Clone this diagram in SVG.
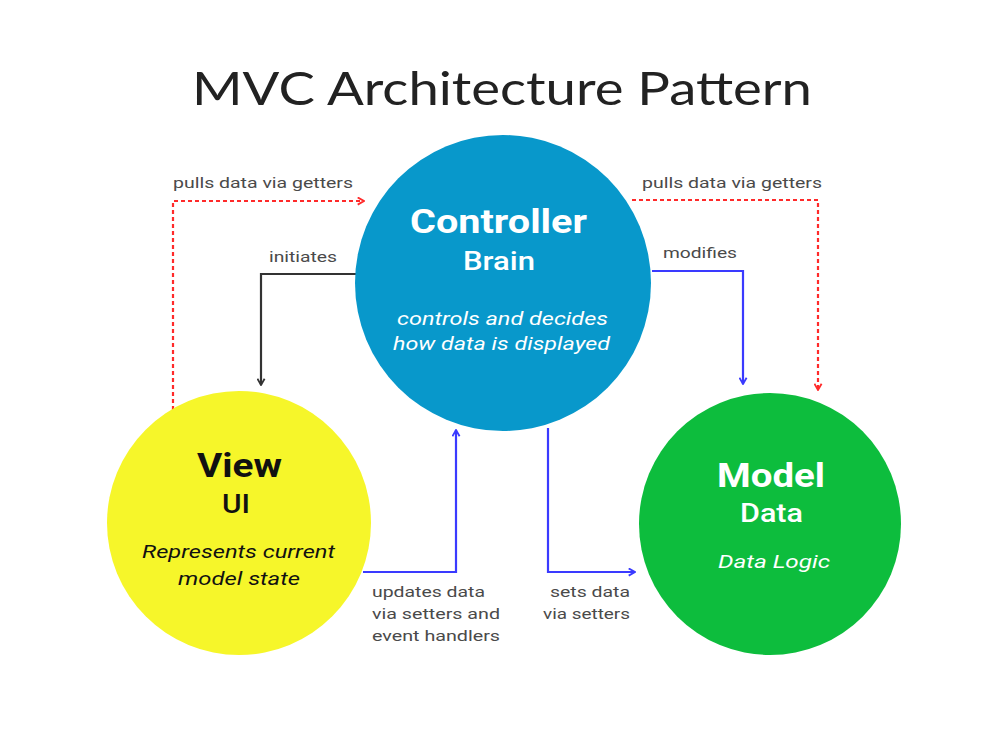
<svg xmlns="http://www.w3.org/2000/svg" width="1000" height="750" viewBox="0 0 1000 750">
<style>
.title{font-family:"Lato","Open Sans",sans-serif;font-weight:400;font-size:47px;fill:#222}
.lbl{font-family:"Roboto","Liberation Sans",sans-serif;font-size:15.5px;fill:#4a4a4a}
.h{font-family:"Roboto","Liberation Sans",sans-serif;font-weight:700;font-size:34px;text-anchor:middle}
.s{font-family:"Roboto","Liberation Sans",sans-serif;font-weight:500;font-size:25px;text-anchor:middle}
.i{font-family:"Roboto","Liberation Sans",sans-serif;font-style:italic;font-size:19px;text-anchor:middle}
.w{fill:#fff}
.k{fill:#111}
.red{stroke:#ff2a2a;stroke-width:2.2;fill:none;stroke-dasharray:4 3}
.blue{stroke:#3a3aff;stroke-width:2.2;fill:none}
.blk{stroke:#333;stroke-width:2.2;fill:none}
</style>
<defs>
<marker id="aR" viewBox="0 0 10 10" refX="9" refY="5" markerWidth="9" markerHeight="9" markerUnits="userSpaceOnUse" orient="auto"><path d="M2,1 L9,5 L2,9" fill="none" stroke="#ff2a2a" stroke-width="2"/></marker>
<marker id="aB" viewBox="0 0 10 10" refX="9" refY="5" markerWidth="9" markerHeight="9" markerUnits="userSpaceOnUse" orient="auto"><path d="M2,1 L9,5 L2,9" fill="none" stroke="#3a3aff" stroke-width="2"/></marker>
<marker id="aK" viewBox="0 0 10 10" refX="9" refY="5" markerWidth="9" markerHeight="9" markerUnits="userSpaceOnUse" orient="auto"><path d="M2,1 L9,5 L2,9" fill="none" stroke="#333" stroke-width="2"/></marker>
</defs>
<rect width="1000" height="750" fill="#fff"/>
<text class="title" x="192" y="105" textLength="620" lengthAdjust="spacingAndGlyphs">MVC Architecture Pattern</text>

<g id="connectors">
<polyline class="red" points="173,410 173,201 364,201" marker-end="url(#aR)"/>
<polyline class="red" points="632,200 818,200 818,390" marker-end="url(#aR)"/>
<polyline class="blk" points="356,274 261,274 261,385" marker-end="url(#aK)"/>
<polyline class="blue" points="652,271 743,271 743,384" marker-end="url(#aB)"/>
<polyline class="blue" points="363,572 456,572 456,430" marker-end="url(#aB)"/>
<polyline class="blue" points="548,428 548,572 635,572" marker-end="url(#aB)"/>
<text class="lbl" x="173" y="188" textLength="180" lengthAdjust="spacingAndGlyphs">pulls data via getters</text>
<text class="lbl" x="642" y="188" textLength="180" lengthAdjust="spacingAndGlyphs">pulls data via getters</text>
<text class="lbl" x="269" y="262" textLength="68" lengthAdjust="spacingAndGlyphs">initiates</text>
<text class="lbl" x="663" y="258" textLength="74" lengthAdjust="spacingAndGlyphs">modifies</text>
<text class="lbl" x="372" y="597" textLength="113" lengthAdjust="spacingAndGlyphs">updates data</text>
<text class="lbl" x="372" y="619" textLength="128" lengthAdjust="spacingAndGlyphs">via setters and</text>
<text class="lbl" x="372" y="641" textLength="128" lengthAdjust="spacingAndGlyphs">event handlers</text>
<text class="lbl" x="550" y="597" textLength="80" lengthAdjust="spacingAndGlyphs">sets data</text>
<text class="lbl" x="543" y="619" textLength="87" lengthAdjust="spacingAndGlyphs">via setters</text>
</g>

<g id="controller">
<circle cx="503" cy="283" r="148" fill="#0898cb"/>
<text class="h w" x="498.5" y="233" textLength="177" lengthAdjust="spacingAndGlyphs">Controller</text>
<text class="s w" x="499" y="270" textLength="72" lengthAdjust="spacingAndGlyphs">Brain</text>
<text class="i w" x="502.5" y="325" textLength="211" lengthAdjust="spacingAndGlyphs">controls and decides</text>
<text class="i w" x="501.5" y="350" textLength="217" lengthAdjust="spacingAndGlyphs">how data is displayed</text>
</g>

<g id="view">
<circle cx="239" cy="523" r="132" fill="#f6f62a"/>
<text class="h k" x="239.5" y="477" textLength="85" lengthAdjust="spacingAndGlyphs">View</text>
<text class="s k" x="236" y="513" textLength="28" lengthAdjust="spacingAndGlyphs">UI</text>
<text class="i k" x="238.5" y="558" textLength="193" lengthAdjust="spacingAndGlyphs">Represents current</text>
<text class="i k" x="239" y="585" textLength="122" lengthAdjust="spacingAndGlyphs">model state</text>
</g>

<g id="model">
<circle cx="770" cy="524" r="131" fill="#0dbd3d"/>
<text class="h w" x="771" y="487" textLength="108" lengthAdjust="spacingAndGlyphs">Model</text>
<text class="s w" x="771.5" y="522" textLength="63" lengthAdjust="spacingAndGlyphs">Data</text>
<text class="i w" x="774" y="568" textLength="112" lengthAdjust="spacingAndGlyphs">Data Logic</text>
</g>
</svg>
